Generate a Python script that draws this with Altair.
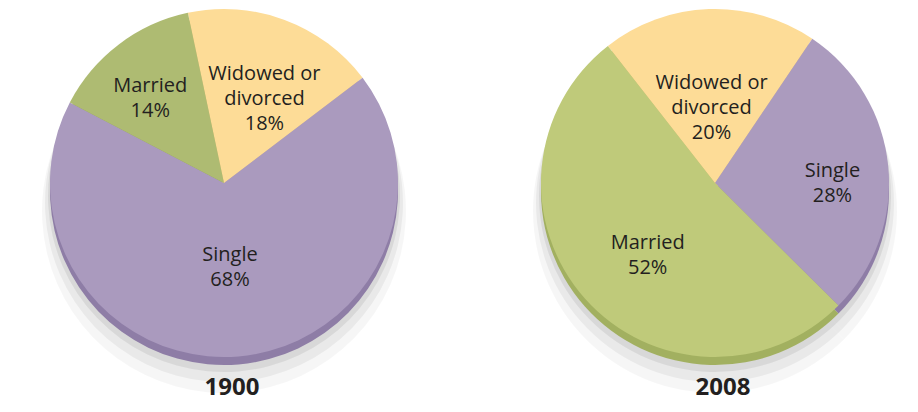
import math
import altair as alt
import pandas as pd

years = ["1900", "2008"]
categories = ["Widowed or divorced", "Single", "Married"]
labels = ["Widowed or\ndivorced", "Single", "Married"]
shares_1900 = [18, 68, 14]
shares_2008 = [20, 28, 52]

rows = []
for yr, shares in zip(years, [shares_1900, shares_2008]):
    for i, (c, l, s) in enumerate(zip(categories, labels, shares)):
        rows.append({"year": yr, "category": c, "label": l, "share": s, "order": i})
df = pd.DataFrame(rows)

R = 174
CY = 175
FONT = "Open Sans"
xscale = alt.Scale(type="point", domain=years, range=[216, 707], padding=0)


def lookup_expr(mapping, quote=True):
    if quote:
        parts = ", ".join(f"'{k}': '{v}'" for k, v in mapping.items())
    else:
        parts = ", ".join(f"'{k}': {v}" for k, v in mapping.items())
    return "{" + parts + "}[datum.category]"


def pie(year, start_deg, top, rim, radii):
    start = math.radians(start_deg)
    base = (
        alt.Chart(df)
        .transform_filter(alt.datum.year == year)
        .transform_window(cum="sum(share)", sort=[alt.SortField("order")], frame=[None, 0])
        .transform_joinaggregate(total="sum(share)")
        .transform_calculate(
            a0=f"{start} + 2*PI*(datum.cum - datum.share)/datum.total",
            a1=f"{start} + 2*PI*datum.cum/datum.total",
        )
        .transform_calculate(
            mid="(datum.a0 + datum.a1)/2",
            top=lookup_expr(top),
            rim=lookup_expr(rim),
            lr=lookup_expr(radii, quote=False),
            txt="datum.label + '\\n' + datum.share + '%'",
        )
        .encode(
            x=alt.X("year:N", scale=xscale, axis=None),
            y=alt.value(CY),
        )
    )
    arc = base.encode(theta=alt.Theta("a0:Q", scale=None), theta2="a1:Q")
    shadow3 = arc.mark_arc(radius=R + 8, color="#000000", opacity=0.035, yOffset=28)
    shadow2 = arc.mark_arc(radius=R + 5, color="#000000", opacity=0.05, yOffset=20)
    shadow1 = arc.mark_arc(radius=R + 2, color="#000000", opacity=0.07, yOffset=13)
    rim_l = arc.mark_arc(radius=R, yOffset=8).encode(color=alt.Color("rim:N", scale=None))
    top_l = arc.mark_arc(radius=R).encode(color=alt.Color("top:N", scale=None))
    text = base.mark_text(
        font=FONT, fontSize=20, color="#231F20", lineBreak="\n", lineHeight=25,
        align="center", baseline="middle",
    ).encode(
        text="txt:N",
        theta=alt.Theta("mid:Q", scale=None),
        radius=alt.Radius("lr:Q", scale=None),
    )
    return alt.layer(shadow3, shadow2, shadow1, rim_l, top_l, text)


p1900 = pie(
    "1900", -12,
    {"Widowed or divorced": "#FDDC97", "Single": "#AA9ABE", "Married": "#AEBB72"},
    {"Widowed or divorced": "#E6C27F", "Single": "#8E7DA6", "Married": "#93A25A"},
    {"Widowed or divorced": 116, "Single": 72, "Married": 122},
)
p2008 = pie(
    "2008", -38,
    {"Widowed or divorced": "#FDDC97", "Single": "#AB9BBE", "Married": "#BFCA7A"},
    {"Widowed or divorced": "#E6C27F", "Single": "#8E7DA6", "Married": "#A2B060"},
    {"Widowed or divorced": 100, "Single": 118, "Married": 90},
)

titles = alt.Chart(pd.DataFrame({"year": years})).mark_text(
    font=FONT, fontSize=24, fontWeight="bold", color="#231F20", baseline="middle", xOffset=8
).encode(
    x=alt.X("year:N", scale=xscale, axis=None),
    y=alt.value(380),
    text="year:N",
)

chart = (
    alt.layer(p1900, p2008, titles)
    .properties(width=902, height=396, padding=0, background="white")
    .configure_view(stroke=None)
)

chart.save("out.html", embed_options={"renderer": "svg", "actions": False})
